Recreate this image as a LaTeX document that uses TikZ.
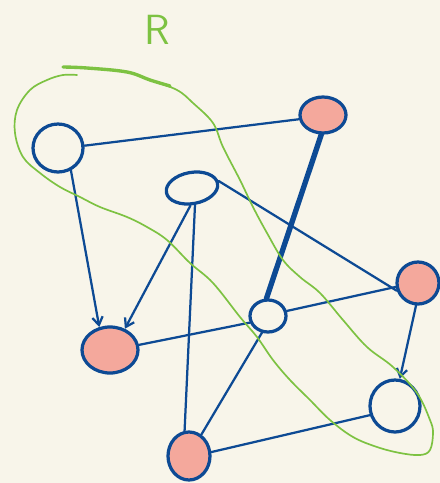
\documentclass[tikz,border=0pt]{standalone}
\usetikzlibrary{shapes.geometric,arrows.meta}
\definecolor{paper}{HTML}{F8F5EA}
\definecolor{inkblue}{HTML}{0D4A94}
\definecolor{salmon}{HTML}{F4A89C}
\definecolor{regiongreen}{HTML}{7DC242}
\begin{document}
\begin{tikzpicture}[x=0.25mm, y=-0.25mm,
  vtx/.style={draw=inkblue, line width=2.3pt, ellipse, inner sep=0pt},
  marked/.style={fill=salmon},
  edge/.style={draw=inkblue, line width=1.6pt, line cap=round},
  arrowed/.style={-{Straight Barb[length=2mm,width=2.6mm]}},
  region/.style={draw=regiongreen, line width=1.2pt, line cap=round}]
  % paper
  \fill[paper] (0,0) rectangle (440,483);
  \useasboundingbox (0,0) rectangle (440,483);
  % vertices
  \node[vtx, minimum width=12.5mm, minimum height=12mm] (a) at (58,148) {};
  \node[vtx, marked, minimum width=11.5mm, minimum height=9mm] (b) at (323,115) {};
  \node[vtx, rotate=10, minimum width=13mm, minimum height=7.8mm] (c) at (192,188) {};
  \node[vtx, marked, minimum width=10.5mm, minimum height=10.5mm] (d) at (418,283) {};
  \node[vtx, minimum width=9mm, minimum height=8mm] (e) at (268,316) {};
  \node[vtx, marked, minimum width=14mm, minimum height=11.5mm] (f) at (110,350) {};
  \node[vtx, minimum width=12.5mm, minimum height=13mm] (g) at (395,406) {};
  \node[vtx, marked, minimum width=10.5mm, minimum height=12mm] (h) at (189,456) {};
  % edges
  \draw[edge] (a.5) -- (b.190);
  \draw[edge, arrowed] (a.-60) -- (f.115);
  \draw[edge, arrowed] (c.-105) -- (f.55);
  \draw[edge] (c.-90) -- (h.100);
  \draw[edge] (c.5) -- (d.200);
  \draw[edge, line width=3.8pt] (b.-95) -- (e.95);
  \draw[edge] (e.15) -- (d.190);
  \draw[edge] (f.10) -- (e.200);
  \draw[edge] (e.-110) -- (h.60);
  \draw[edge, arrowed] (d.-95) -- (g.80);
  \draw[edge] (h.10) -- (g.200);
  % region R
  \node[font=\fontsize{30}{30}\selectfont\sffamily, text=regiongreen] (rlabel) at (157,30) {R};
  \draw[region] plot[smooth, tension=0.6] coordinates {
    (63,67) (87,68) (127,72) (150,80) (177,90) (193,103) (213,123) (223,147)
    (240,180) (253,207) (267,233) (283,260) (300,277) (320,293) (343,320)
    (367,347) (393,367) (417,393) (430,420) (433,433) (430,450) (420,455)
    (400,453) (377,447) (353,437) (330,420) (310,400) (290,380) (273,360)
    (257,337) (240,317) (213,283) (190,263) (167,240) (147,227) (127,217)
    (100,207) (80,197) (60,187) (40,173) (23,157) (15,133) (17,110) (30,90)
    (47,80) (63,75) (77,75)};
  \draw[region, line width=2.4pt] plot[smooth, tension=0.6] coordinates {
    (63,67) (87,68) (127,72) (150,80) (170,86)};
\end{tikzpicture}
\end{document}
